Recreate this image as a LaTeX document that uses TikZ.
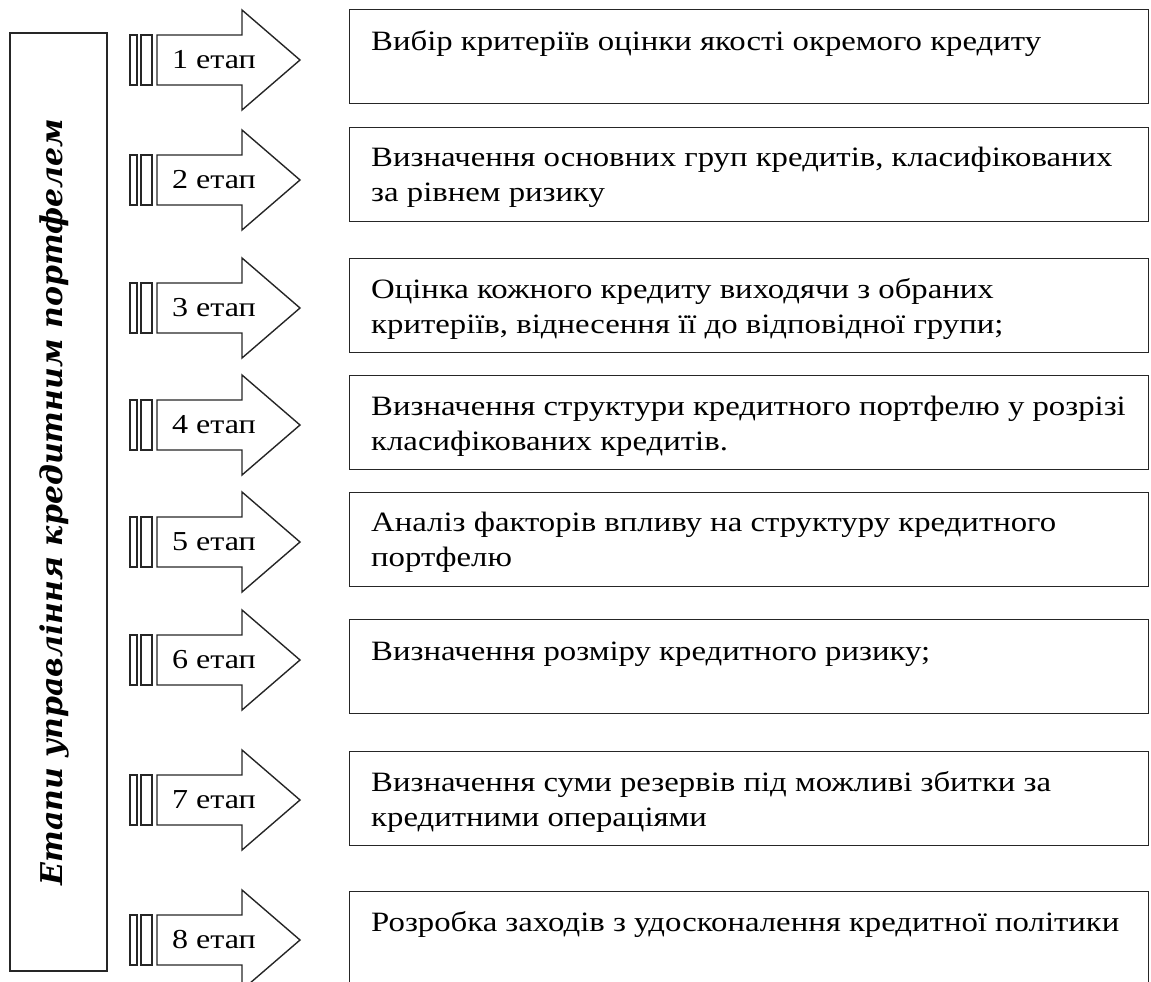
\documentclass[tikz,border=0pt]{standalone}
\usepackage{fontspec}
\setmainfont[FakeStretch=1.17]{Liberation Serif}
\newfontfamily\titlefont{DejaVu Serif}
\begin{document}
\begin{tikzpicture}[x=1bp,y=-1bp,
  line/.style={draw=black!85, line width=1.4bp},
  stagebox/.style={line, rectangle, minimum width=799bp, minimum height=94bp, inner sep=0pt},
  boxtext/.style={anchor=base west, inner sep=0pt, font=\fontsize{28bp}{35bp}\selectfont},
  arrlabel/.style={anchor=base, inner sep=0pt, font=\fontsize{27.4bp}{30bp}\selectfont},
  ]
\useasboundingbox (0,0) rectangle (1151,982);
% left title box
\node[line, rectangle, minimum width=97bp, minimum height=938bp, inner sep=0pt] (lbox) at (58.5,502) {};
\node[rotate=90, anchor=base, inner sep=0pt, font=\titlefont\bfseries\itshape\fontsize{30bp}{36bp}\selectfont] (title) at (62,502) {Етапи управління кредитним портфелем};

% arrows
\foreach \i/\c in {1/60,2/180,3/308,4/425,5/542,6/660,7/800,8/940}{
  \draw[line] (130,\c-25) rectangle (137,\c+25);
  \draw[line] (141,\c-25) rectangle (152,\c+25);
  \draw[line] (157,\c-25) -- (242,\c-25) -- (242,\c-50) -- (300,\c) -- (242,\c+50) -- (242,\c+25) -- (157,\c+25) -- cycle;
  \node[arrlabel] (a\i) at (214,\c+8.5) {\i\ етап};
}

% boxes
\node[stagebox, anchor=north west] (b1) at (349,9) {};
\node[stagebox, anchor=north west] (b2) at (349,127) {};
\node[stagebox, anchor=north west] (b3) at (349,258) {};
\node[stagebox, anchor=north west] (b4) at (349,375) {};
\node[stagebox, anchor=north west] (b5) at (349,492) {};
\node[stagebox, anchor=north west] (b6) at (349,619) {};
\node[stagebox, anchor=north west] (b7) at (349,751) {};
\node[stagebox, anchor=north west, minimum height=110bp] (b8) at (349,891) {};

\node[boxtext] (t1) at ([xshift=22bp,yshift=-41bp]b1.north west) {\parbox[t]{775bp}{\raggedright Вибір критеріїв оцінки якості окремого кредиту}};
\node[boxtext] (t2) at ([xshift=22bp,yshift=-39bp]b2.north west) {\parbox[t]{775bp}{\raggedright Визначення основних груп кредитів, класифікованих\\ за рівнем ризику}};
\node[boxtext] (t3) at ([xshift=22bp,yshift=-40bp]b3.north west) {\parbox[t]{775bp}{\raggedright Оцінка кожного кредиту виходячи з обраних\\ критеріїв, віднесення її до відповідної групи;}};
\node[boxtext] (t4) at ([xshift=22bp,yshift=-40bp]b4.north west) {\parbox[t]{775bp}{\raggedright Визначення структури кредитного портфелю у розрізі\\ класифікованих кредитів.}};
\node[boxtext] (t5) at ([xshift=22bp,yshift=-39bp]b5.north west) {\parbox[t]{775bp}{\raggedright Аналіз факторів впливу на структуру кредитного\\ портфелю}};
\node[boxtext] (t6) at ([xshift=22bp,yshift=-41bp]b6.north west) {\parbox[t]{775bp}{\raggedright Визначення розміру кредитного ризику;}};
\node[boxtext] (t7) at ([xshift=22bp,yshift=-40bp]b7.north west) {\parbox[t]{775bp}{\raggedright Визначення суми резервів під можливі збитки за\\ кредитними операціями}};
\node[boxtext] (t8) at ([xshift=22bp,yshift=-40bp]b8.north west) {\parbox[t]{775bp}{\raggedright Розробка заходів з удосконалення кредитної політики}};
\end{tikzpicture}
\end{document}
